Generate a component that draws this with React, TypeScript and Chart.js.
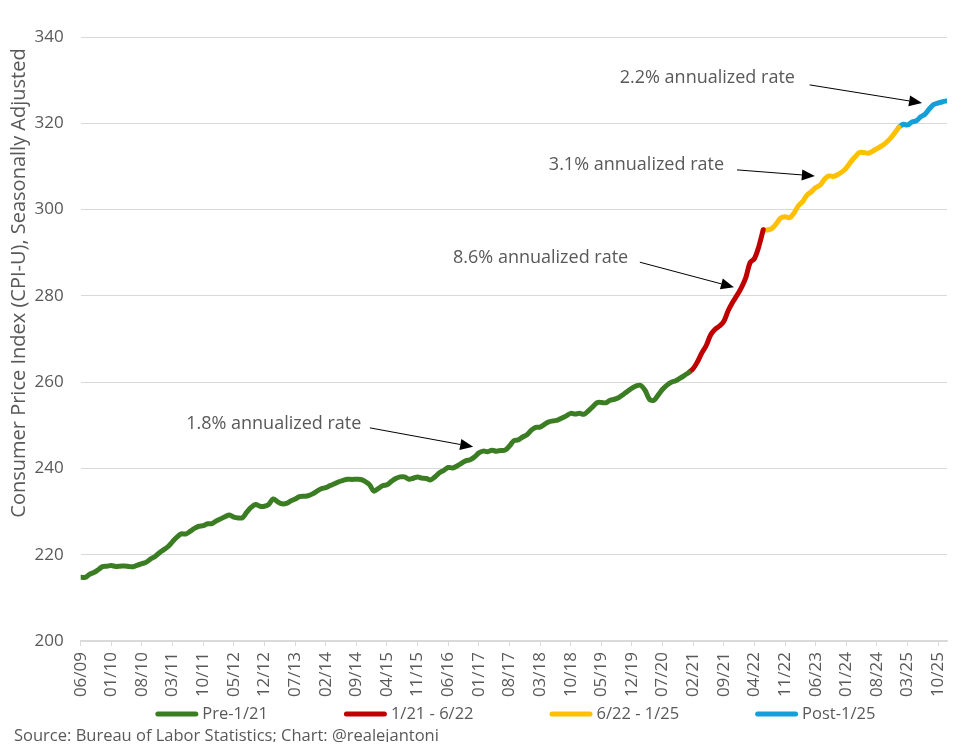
import React, { useEffect, useRef } from "react";
import { Chart, registerables } from "chart.js";

Chart.register(...registerables);

// ---- Data: CPI-U, seasonally adjusted, monthly from 06/2009 to 12/2025 ----
const START_YEAR = 2009;
const START_MONTH = 6;

const cpi2009 = [214.79, 214.726, 215.445, 215.861, 216.509, 217.234, 217.347];
const cpi2010 = [217.488, 217.281, 217.353, 217.403, 217.29, 217.199, 217.605, 217.923, 218.275, 219.035, 219.59, 220.472];
const cpi2011 = [221.187, 221.898, 223.046, 224.093, 224.806, 224.806, 225.395, 226.106, 226.597, 226.75, 227.169, 227.223];
const cpi2012 = [227.842, 228.329, 228.807, 229.187, 228.713, 228.524, 228.59, 229.918, 231.015, 231.638, 231.249, 231.221];
const cpi2013 = [231.679, 232.937, 232.282, 231.797, 231.893, 232.445, 232.9, 233.456, 233.544, 233.669, 234.1, 234.719];
const cpi2014 = [235.288, 235.547, 236.028, 236.468, 236.918, 237.231, 237.498, 237.46, 237.477, 237.43, 236.983, 236.252];
const cpi2015 = [234.747, 235.342, 235.976, 236.222, 237.001, 237.657, 238.034, 238.033, 237.498, 237.733, 238.017, 237.761];
const cpi2016 = [237.652, 237.336, 238.08, 238.992, 239.557, 240.222, 240.101, 240.545, 241.176, 241.741, 242.026, 242.637];
const cpi2017 = [243.618, 244.006, 243.892, 244.193, 244.004, 244.163, 244.243, 245.183, 246.435, 246.626, 247.284, 247.805];
const cpi2018 = [248.859, 249.529, 249.577, 250.227, 250.792, 251.018, 251.214, 251.663, 252.182, 252.772, 252.594, 252.767];
const cpi2019 = [252.561, 253.319, 254.277, 255.233, 255.296, 255.213, 255.802, 256.036, 256.43, 257.155, 257.879, 258.63];
const cpi2020 = [259.127, 259.25, 258.076, 256.032, 255.802, 257.042, 258.352, 259.316, 259.997, 260.319, 260.911, 261.56];
const cpi2021 = [262.231, 263.161, 264.793, 266.832, 268.551, 270.981, 272.265, 273.012, 274.138, 276.59, 278.524, 280.126];
const cpi2022 = [281.933, 284.182, 287.708, 288.663, 291.474, 295.328, 295.271, 295.62, 296.761, 298.062, 298.349, 298.112];
const cpi2023 = [299.17, 300.84, 301.836, 303.363, 304.127, 305.109, 305.691, 307.026, 307.789, 307.671, 308.087, 308.735];
const cpi2024 = [309.685, 311.054, 312.23, 313.207, 313.225, 313.049, 313.534, 314.121, 314.686, 315.454, 316.441, 317.685];
const cpi2025 = [319.086, 319.775, 319.615, 320.321, 320.58, 321.5, 322.132, 323.364, 324.368, 324.7, 325.0, 325.2];

const cpiValues: number[] = [
  ...cpi2009, ...cpi2010, ...cpi2011, ...cpi2012, ...cpi2013, ...cpi2014,
  ...cpi2015, ...cpi2016, ...cpi2017, ...cpi2018, ...cpi2019, ...cpi2020,
  ...cpi2021, ...cpi2022, ...cpi2023, ...cpi2024, ...cpi2025,
];

// Month labels "MM/YY"
const monthLabels: string[] = cpiValues.map((_, i) => {
  const k = START_MONTH - 1 + i;
  const m = (k % 12) + 1;
  const y = (START_YEAR + Math.floor(k / 12)) % 100;
  return `${String(m).padStart(2, "0")}/${String(y).padStart(2, "0")}`;
});

// Series segments (inclusive start/end months)
const seriesNames = ["Pre-1/21", "1/21 - 6/22", "6/22 - 1/25", "Post-1/25"];
const seriesStart = ["06/09", "01/21", "06/22", "01/25"];
const seriesEnd = ["01/21", "06/22", "01/25", "12/25"];
const seriesColors = ["#3B7D23", "#C00000", "#FFC000", "#159FD9"];

// Y axis ticks
const yMin = 200;
const yMax = 340;
const yStep = 20;
const xTickEvery = 7;

// Annotations (anchored in data space: month index, index value)
const annotationTexts = ["2.2% annualized rate", "3.1% annualized rate", "8.6% annualized rate", "1.8% annualized rate"];
const annotationTextAt = [[123.2, 330.5], [107.0, 310.3], [85.1, 288.8], [24.1, 250.3]];
const annotationArrowFrom = [[166.6, 328.9], [150.0, 309.2], [127.8, 287.8], [66.1, 249.4]];
const annotationArrowTo = [[192.3, 324.7], [167.8, 307.8], [149.3, 282.0], [89.7, 245.0]];

const yAxisTitle = "Consumer Price Index (CPI-U), Seasonally Adjusted";
const sourceText = "Source: Bureau of Labor Statistics; Chart: @realejantoni";

const FONT = "'Open Sans', sans-serif";
const GRAY = "#595959";

const overlayPlugin = {
  id: "overlay",
  afterDraw(chart: any) {
    const ctx = chart.ctx as CanvasRenderingContext2D;
    const xs = chart.scales.x;
    const ys = chart.scales.y;
    const area = chart.chartArea;
    ctx.save();

    // annotations
    for (let i = 0; i < annotationTexts.length; i++) {
      const tx = xs.getPixelForValue(annotationTextAt[i][0]);
      const ty = ys.getPixelForValue(annotationTextAt[i][1]);
      ctx.font = `18px ${FONT}`;
      ctx.fillStyle = GRAY;
      ctx.textAlign = "left";
      ctx.textBaseline = "middle";
      ctx.fillText(annotationTexts[i], tx, ty);

      const x1 = xs.getPixelForValue(annotationArrowFrom[i][0]);
      const y1 = ys.getPixelForValue(annotationArrowFrom[i][1]);
      const x2 = xs.getPixelForValue(annotationArrowTo[i][0]);
      const y2 = ys.getPixelForValue(annotationArrowTo[i][1]);
      const ang = Math.atan2(y2 - y1, x2 - x1);
      const headLen = 13;
      const headHalf = 5.5;
      const bx = x2 - headLen * Math.cos(ang);
      const by = y2 - headLen * Math.sin(ang);
      ctx.strokeStyle = "#000";
      ctx.lineWidth = 1;
      ctx.beginPath();
      ctx.moveTo(x1, y1);
      ctx.lineTo(bx, by);
      ctx.stroke();
      ctx.fillStyle = "#000";
      ctx.beginPath();
      ctx.moveTo(x2, y2);
      ctx.lineTo(bx + headHalf * Math.sin(ang), by - headHalf * Math.cos(ang));
      ctx.lineTo(bx - headHalf * Math.sin(ang), by + headHalf * Math.cos(ang));
      ctx.closePath();
      ctx.fill();
    }

    // y axis title
    ctx.save();
    ctx.translate(11, (area.top + area.bottom) / 2 - 56);
    ctx.rotate(-Math.PI / 2);
    ctx.font = `20px ${FONT}`;
    ctx.fillStyle = GRAY;
    ctx.textAlign = "center";
    ctx.textBaseline = "middle";
    ctx.fillText(yAxisTitle, 0, 0);
    ctx.restore();

    // legend
    ctx.font = `16.5px ${FONT}`;
    const boxW = 43;
    const gap = 4;
    const spacing = 76;
    const widths = seriesNames.map((n) => boxW + gap + ctx.measureText(n).width);
    const total = widths.reduce((a, b) => a + b, 0) + spacing * (widths.length - 1);
    let lx = (area.left + area.right) / 2 + 1.5 - total / 2;
    const ly = 706;
    for (let i = 0; i < seriesNames.length; i++) {
      ctx.strokeStyle = seriesColors[i];
      ctx.lineWidth = 5;
      ctx.lineCap = "round";
      ctx.beginPath();
      ctx.moveTo(lx + 2.5, ly);
      ctx.lineTo(lx + boxW - 2.5, ly);
      ctx.stroke();
      ctx.fillStyle = GRAY;
      ctx.textAlign = "left";
      ctx.textBaseline = "middle";
      ctx.fillText(seriesNames[i], lx + boxW + gap, ly);
      lx += widths[i] + spacing;
    }

    // source
    ctx.font = `16.5px ${FONT}`;
    ctx.fillStyle = GRAY;
    ctx.textAlign = "left";
    ctx.textBaseline = "middle";
    ctx.fillText(sourceText, 6, 728);

    ctx.restore();
  },
};

export default function App() {
  const canvasRef = useRef<HTMLCanvasElement | null>(null);

  useEffect(() => {
    if (!canvasRef.current) return;
    const datasets = seriesNames.map((name, s) => {
      const a = monthLabels.indexOf(seriesStart[s]);
      const b = monthLabels.indexOf(seriesEnd[s]);
      return {
        label: name,
        data: cpiValues.map((v, i) => ({ x: i, y: i >= a && i <= b ? v : null })),
        borderColor: seriesColors[s],
        backgroundColor: seriesColors[s],
        borderWidth: 5,
        pointRadius: 0,
        tension: 0.35,
        spanGaps: false,
        borderCapStyle: "round" as const,
        borderJoinStyle: "round" as const,
      };
    });

    const chart = new Chart(canvasRef.current, {
      type: "line",
      data: { datasets },
      options: {
        animation: false,
        responsive: true,
        maintainAspectRatio: false,
        layout: { padding: { top: 29, right: 20, left: 0, bottom: 0 } },
        plugins: {
          legend: { display: false },
          tooltip: { enabled: false },
        },
        scales: {
          x: {
            type: "linear",
            min: 0,
            max: cpiValues.length - 1,
            grid: {
              display: true,
              drawOnChartArea: false,
              drawTicks: true,
              tickLength: 5,
              color: "#d9d9d9",
            },
            border: { display: true, color: "#d9d9d9", width: 1.5 },
            ticks: {
              stepSize: xTickEvery,
              includeBounds: false,
              autoSkip: false,
              minRotation: 90,
              maxRotation: 90,
              padding: 6,
              color: GRAY,
              font: { family: FONT, size: 17 },
              callback: (v: any) => monthLabels[Math.round(Number(v))] ?? "",
            },
            afterFit: (scale: any) => {
              scale.height = 101;
            },
          },
          y: {
            min: yMin,
            max: yMax,
            grid: { color: "#d9d9d9", lineWidth: 1, drawTicks: false },
            border: { display: false },
            ticks: {
              stepSize: yStep,
              padding: 17,
              color: GRAY,
              font: { family: FONT, size: 17 },
            },
            afterFit: (scale: any) => {
              scale.width = 72.7;
            },
          },
        },
      },
      plugins: [overlayPlugin],
    });
    return () => chart.destroy();
  }, []);

  return (
    <div style={{ width: 959, height: 734, position: "relative" }}>
      <canvas ref={canvasRef} />
    </div>
  );
}
